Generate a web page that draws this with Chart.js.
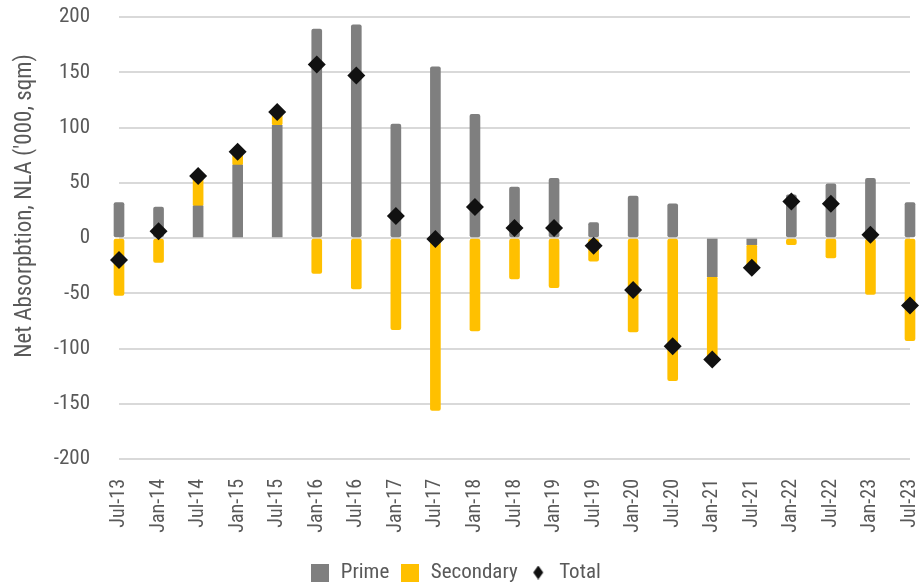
<!DOCTYPE html>
<html>
<head>
<meta charset="utf-8">
<script src="https://cdn.jsdelivr.net/npm/chart.js@4"></script>
<style>
  html, body { margin: 0; padding: 0; background: #fff; }
  #wrap { width: 922px; height: 587px; }
</style>
</head>
<body>
<div id="wrap"><canvas id="chart" width="922" height="587"></canvas></div>
<script>
// Half-yearly net absorption, thousand sqm of NLA
const periods = ['Jul-13','Jan-14','Jul-14','Jan-15','Jul-15','Jan-16','Jul-16','Jan-17','Jul-17','Jan-18','Jul-18',
                 'Jan-19','Jul-19','Jan-20','Jul-20','Jan-21','Jul-21','Jan-22','Jul-22','Jan-23','Jul-23'];
const prime     = [32, 28, 29, 66, 102, 189, 193, 103, 155, 112, 46, 54, 14, 38, 31, -35, -6, 39, 49, 54, 32];
const secondary = [-52, -22, 27, 12, 12, -32, -46, -83, -156, -84, -37, -45, -21, -85, -129, -75, -21, -6, -18, -51, -93];
const total     = [-20, 6, 56, 78, 114, 157, 147, 20, -1, 28, 9, 9, -7, -47, -98, -110, -27, 33, 31, 3, -61];
const yTicks    = [200, 150, 100, 50, 0, -50, -100, -150, -200];
const yTitle    = "Net Absorpbtion, NLA ('000, sqm)";

const FONT = "'Roboto Condensed', Roboto, 'Liberation Sans Narrow', sans-serif";
const GREY = '#7F7F7F', GOLD = '#FFC000', INK = '#111111', TEXT = '#595959', GRID = '#D9D9D9';

// small legend icons
function icon(w, h, draw) {
  const c = document.createElement('canvas');
  c.width = w; c.height = h;
  draw(c.getContext('2d'));
  return c;
}
const squareIcon = col => icon(18, 18, g => { g.fillStyle = col; g.fillRect(0, 0, 18, 18); });
const diamondIcon = icon(12, 14, g => {
  g.fillStyle = INK; g.beginPath();
  g.moveTo(6, 0); g.lineTo(11, 7); g.lineTo(6, 14); g.lineTo(1, 7); g.closePath(); g.fill();
});

// vertical axis caption, set a little above the middle of the value axis
const axisCaption = {
  id: 'axisCaption',
  afterDraw(chart) {
    const ctx = chart.ctx;
    ctx.save();
    ctx.translate(25, 206);
    ctx.rotate(-Math.PI / 2);
    ctx.font = '23px ' + FONT;
    ctx.fillStyle = TEXT;
    ctx.textAlign = 'center';
    ctx.textBaseline = 'middle';
    ctx.fillText(yTitle, 0, 0);
    ctx.restore();
  }
};

new Chart(document.getElementById('chart'), {
  data: {
    labels: periods,
    datasets: [
      { type: 'bar', label: 'Prime', data: prime, backgroundColor: GREY, barThickness: 10,
        borderRadius: 2, borderSkipped: false, clip: false, pointStyle: squareIcon(GREY) },
      { type: 'bar', label: 'Secondary', data: secondary, backgroundColor: GOLD, barThickness: 10,
        borderRadius: 2, borderSkipped: false, clip: false, pointStyle: squareIcon(GOLD) },
      { type: 'line', label: 'Total', data: total, showLine: false, order: -1, clip: false,
        pointStyle: 'rectRot', pointRadius: 9, pointHoverRadius: 9,
        backgroundColor: INK, borderColor: INK, borderWidth: 0 }
    ]
  },
  plugins: [axisCaption],
  options: {
    responsive: false,
    animation: false,
    layout: { padding: { top: 17, right: 12, left: 0, bottom: -6 } },
    plugins: {
      tooltip: { enabled: false },
      legend: {
        position: 'bottom',
        labels: {
          usePointStyle: true,
          font: { family: FONT, size: 21 },
          color: TEXT,
          boxHeight: 18,
          padding: 10,
          generateLabels(chart) {
            return chart.data.datasets.map((ds, i) => ({
              text: ds.label,
              fillStyle: ds.backgroundColor,
              strokeStyle: ds.backgroundColor,
              lineWidth: 0,
              pointStyle: i === 2 ? diamondIcon : ds.pointStyle,
              hidden: false,
              datasetIndex: i,
              fontColor: TEXT
            }));
          }
        }
      }
    },
    scales: {
      x: {
        stacked: true,
        offset: false,
        grid: { display: false, drawTicks: false },
        border: { display: false },
        ticks: {
          minRotation: 90, maxRotation: 90, autoSkip: false,
          padding: 20,
          color: TEXT,
          font: { family: FONT, size: 20 }
        },
        afterFit(scale) {
          scale.height = 93;
          scale.paddingLeft = 0;
          scale.paddingRight = 0;
        }
      },
      y: {
        stacked: true,
        min: -200, max: 200,
        afterBuildTicks(scale) { scale.ticks = yTicks.map(v => ({ value: v })); },
        grid: { color: GRID, lineWidth: 2, drawTicks: false },
        border: { display: false },
        ticks: {
          padding: 29,
          color: TEXT,
          font: { family: FONT, size: 21 }
        },
        afterFit(scale) {
          scale.width = 119;
          scale.paddingTop = 0;
          scale.paddingBottom = 0;
        }
      }
    }
  }
});
</script>
</body>
</html>
